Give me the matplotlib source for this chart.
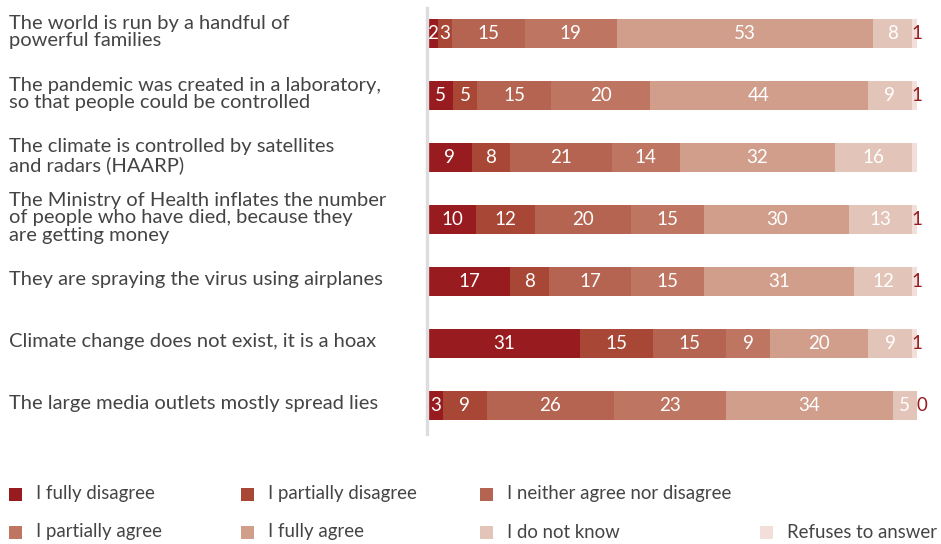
import matplotlib
matplotlib.use("Agg")
import matplotlib.pyplot as plt
from matplotlib.patches import Rectangle
from matplotlib.lines import Line2D

statements = [
    "The world is run by a handful of\npowerful families",
    "The pandemic was created in a laboratory,\nso that people could be controlled",
    "The climate is controlled by satellites\nand radars (HAARP)",
    "The Ministry of Health inflates the number\nof people who have died, because they\nare getting money",
    "They are spraying the virus using airplanes",
    "Climate change does not exist, it is a hoax",
    "The large media outlets mostly spread lies",
]

answers = [
    "I fully disagree",
    "I partially disagree",
    "I neither agree nor disagree",
    "I partially agree",
    "I fully agree",
    "I do not know",
    "Refuses to answer",
]

fully_disagree = [2, 5, 9, 10, 17, 31, 3]
partially_disagree = [3, 5, 8, 12, 8, 15, 9]
neither = [15, 15, 21, 20, 17, 15, 26]
partially_agree = [19, 20, 14, 15, 15, 9, 23]
fully_agree = [53, 44, 32, 30, 31, 20, 34]
do_not_know = [8, 9, 16, 13, 12, 9, 5]
refuses = [1, 1, 1, 1, 1, 1, 0]
refuses_labels = ["1", "1", "", "1", "1", "1", "0"]

series = [fully_disagree, partially_disagree, neither, partially_agree,
          fully_agree, do_not_know, refuses]

colors = ["#981b1f", "#a84735", "#b56451", "#be7663", "#d19e8c", "#e3c4b8", "#f3dfd9"]

FONT = "Lato"
TEXT = "#444444"
W, H = 941, 544

fig = plt.figure(figsize=(W / 100, H / 100), dpi=100)
ax = fig.add_axes([428 / W, 1 - 436 / H, 489 / W, 434 / H])

n = len(statements)
totals = [sum(s[i] for s in series) for i in range(n)]

for i in range(n):
    left = 0.0
    for k, s in enumerate(series):
        w = s[i] / totals[i] * 100
        ax.barh(i, w, left=left, height=29 / 62, color=colors[k], linewidth=0)
        if k < len(series) - 1:
            ax.text(left + w / 2, i, str(s[i]), ha="center", va="center",
                    color="white", fontsize=13.5, family=FONT)
        else:
            lbl = refuses_labels[i]
            if lbl:
                ax.text(left - 0.2, i, lbl, ha="left", va="center",
                        color="#981b1f", fontsize=13.5, family=FONT)
        left += w

ax.set_xlim(0, 100)
ax.set_ylim(n - 0.5, -0.5)
ax.axis("off")

# vertical baseline
fig.add_artist(Line2D([426.5 / W, 426.5 / W], [1 - 8 / H, 1 - 434 / H],
                      color="#dddddd", linewidth=2.4))

# category labels on the left
for i, txt in enumerate(statements):
    yc = 32 + i * 62
    fig.text(9 / W, 1 - yc / H, txt, ha="left", va="center", fontsize=14.5,
             color=TEXT, family=FONT, linespacing=1.05)

# legend
legend_pos = [(9, 494), (241, 494), (480, 494),
              (9, 532), (241, 532), (480, 532), (760, 532)]
for (x, y), lab, c in zip(legend_pos, answers, colors):
    fig.add_artist(Rectangle((x / W, 1 - (y + 6.5) / H), 13 / W, 13 / H,
                             transform=fig.transFigure, color=c, linewidth=0))
    fig.text((x + 27) / W, 1 - y / H, lab, ha="left", va="center",
             fontsize=13.4, color=TEXT, family=FONT)

fig.savefig("out.png", dpi=100)
